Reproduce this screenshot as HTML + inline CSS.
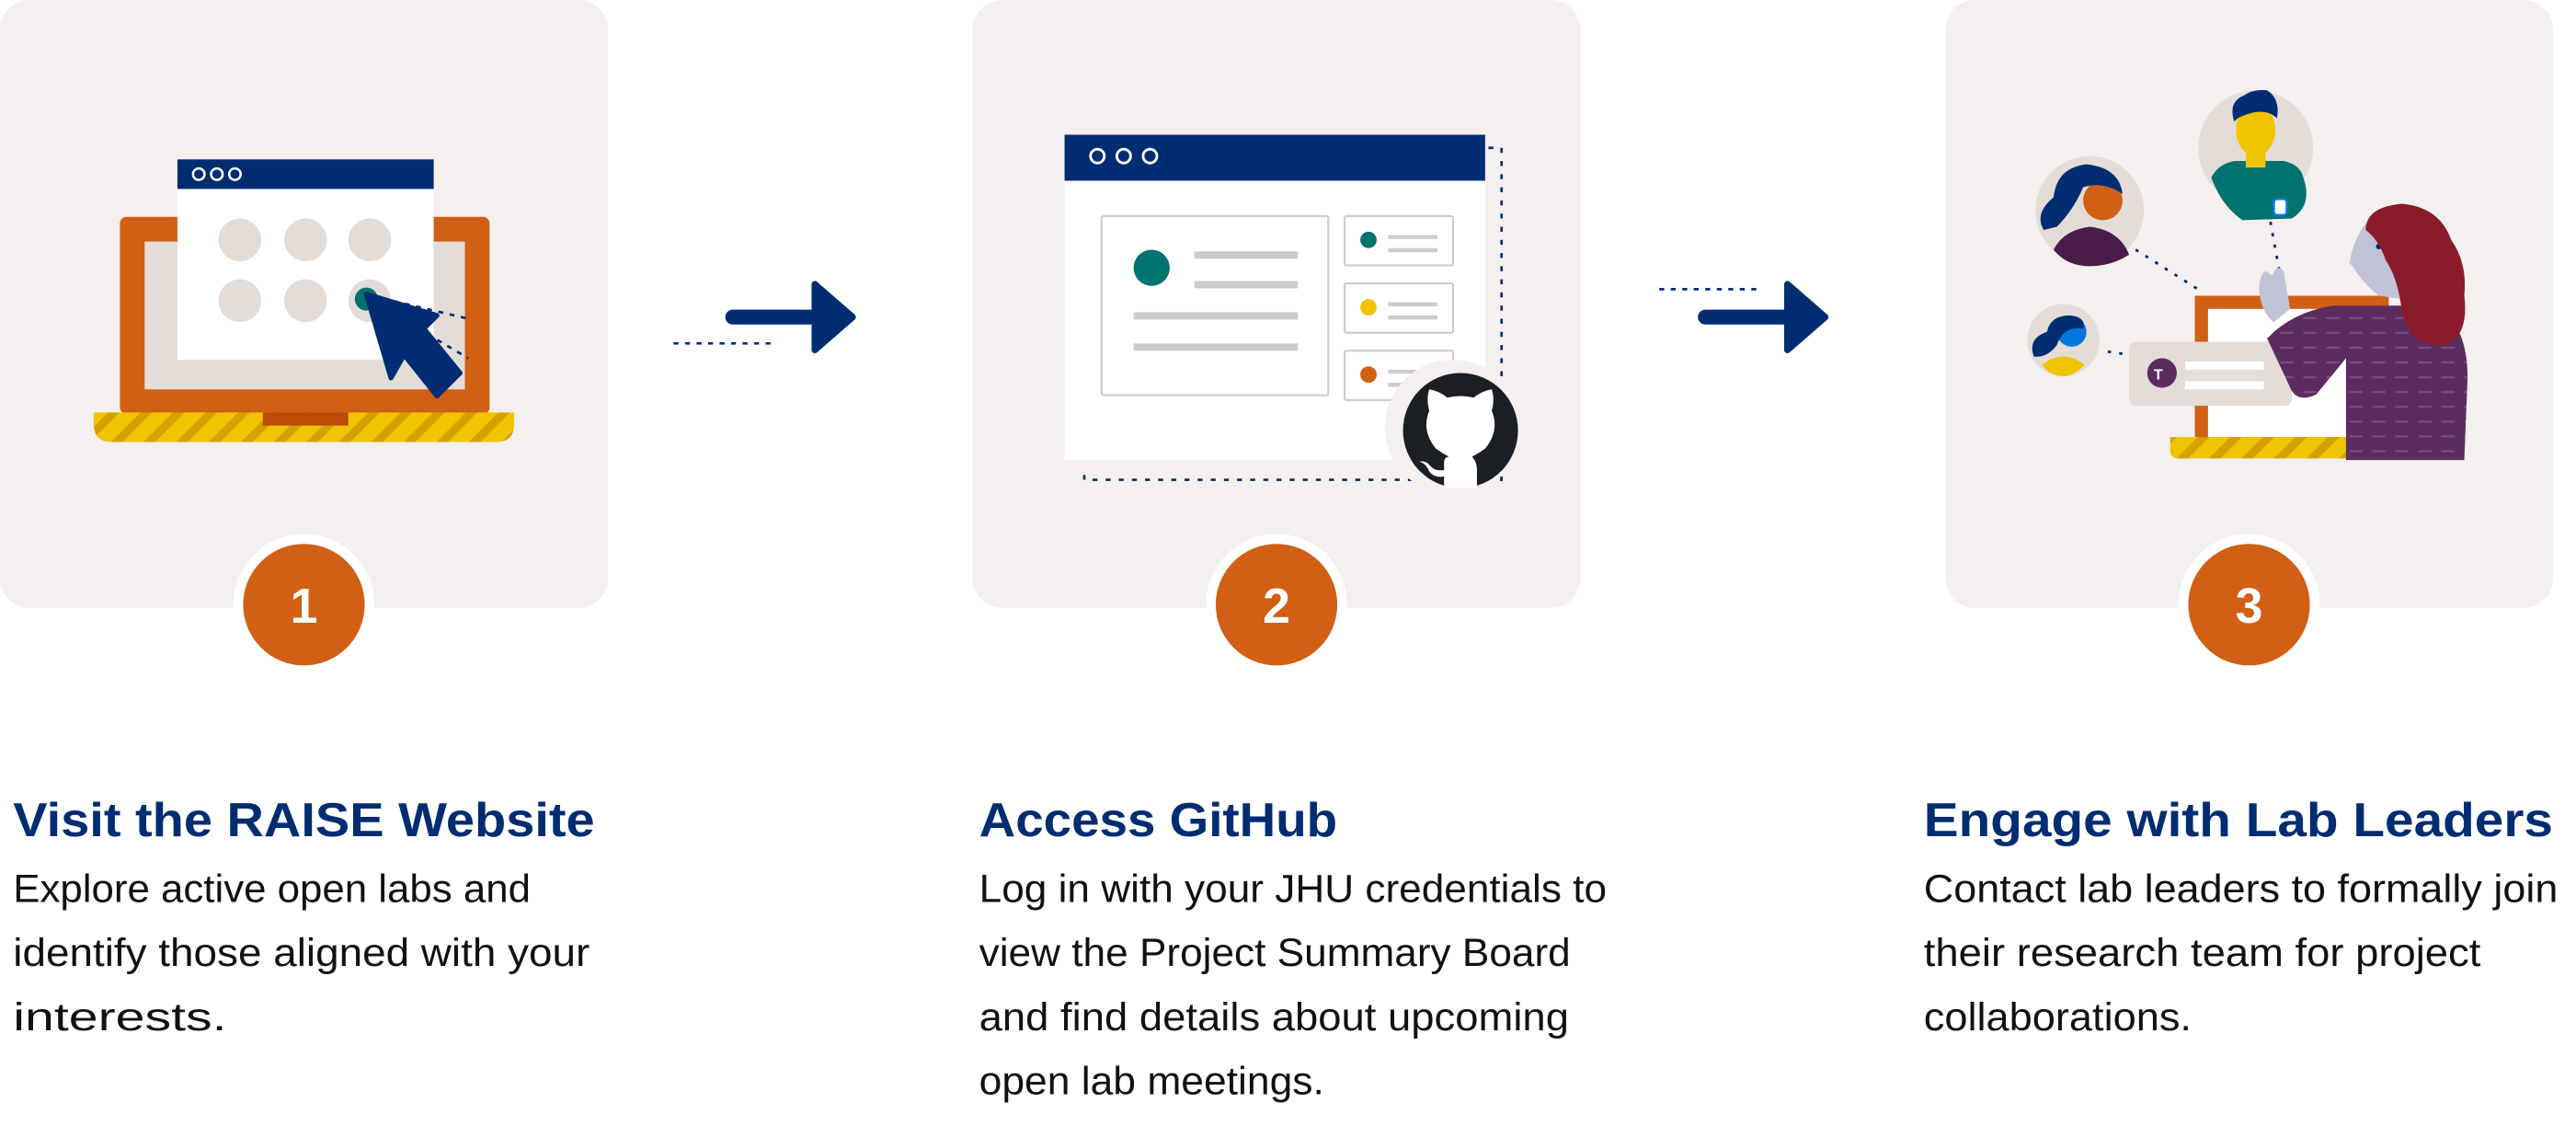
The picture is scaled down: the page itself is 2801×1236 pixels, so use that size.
<!DOCTYPE html>
<html><head><meta charset="utf-8"><style>
html,body{margin:0;padding:0;background:#fff;width:2801px;height:1236px;overflow:hidden}
svg{display:block}
.t{font-family:"Liberation Sans",sans-serif;font-weight:bold;fill:#002D72;font-size:29px}
.b{font-family:"Liberation Sans",sans-serif;fill:#111;font-size:24px}
.n{font-family:"Liberation Sans",sans-serif;font-weight:bold;fill:#fff;font-size:30px}
</style></head><body>
<svg width="2801" height="1236" viewBox="0 0 1568 692" preserveAspectRatio="none" xmlns="http://www.w3.org/2000/svg">
<defs>
<pattern id="hatch" width="14" height="14" patternUnits="userSpaceOnUse" patternTransform="rotate(45)">
<rect width="14" height="14" fill="#F1C400"/><rect width="5" height="14" fill="#D6A100"/>
</pattern>
<pattern id="knit" width="14" height="9" patternUnits="userSpaceOnUse">
<rect width="14" height="9" fill="#5B2D5F"/><rect x="2" y="4" width="8" height="1.2" fill="#7D4C82"/>
</pattern>
</defs>
<rect x="0" y="0" width="370" height="370" rx="18" fill="#F3F0EF"/>
<rect x="592" y="0" width="370" height="370" rx="18" fill="#F3F0EF"/>
<rect x="1184" y="0" width="370" height="370" rx="18" fill="#F3F0EF"/>

<rect x="73" y="132" width="225" height="120" rx="4" fill="#D15F14"/>
<rect x="88" y="147" width="195" height="90" fill="#E3DCD7"/>
<path d="M57 251 H313 V258 Q313 269 302 269 H68 Q57 269 57 258 Z" fill="url(#hatch)"/>
<rect x="160" y="251" width="52" height="8" fill="#BC4B06"/>
<rect x="108" y="97" width="156" height="122" fill="#fff"/>
<rect x="108" y="97" width="156" height="18" fill="#002D72"/>
<g fill="none" stroke="#fff" stroke-width="1.4"><circle cx="121" cy="106" r="3.5"/><circle cx="132" cy="106" r="3.5"/><circle cx="143" cy="106" r="3.5"/></g>
<g fill="#E3DCD7"><circle cx="146" cy="146" r="13"/><circle cx="186" cy="146" r="13"/><circle cx="225" cy="146" r="13"/><circle cx="146" cy="183" r="13"/><circle cx="186" cy="183" r="13"/><circle cx="225" cy="183" r="13"/></g>
<circle cx="223" cy="182" r="7" fill="#00736E"/>
<path d="M226 180 L285 194 M224 182 L285 218" stroke="#002D72" stroke-width="1.5" stroke-dasharray="3,4" fill="none"/>
<path d="M223 179 L266 192 L258 200 L280 227 L266 241 L246 216 L238 230 Z" fill="#002D72" stroke="#002D72" stroke-linejoin="round" stroke-width="3"/>

<line x1="446" y1="193" x2="500" y2="193" stroke="#002D72" stroke-width="9" stroke-linecap="round"/>
<path d="M496 173 L519 193 L496 213 Z" fill="#002D72" stroke="#002D72" stroke-width="4" stroke-linejoin="round"/>
<line x1="410" y1="209" x2="472" y2="209" stroke="#002D72" stroke-width="1.5" stroke-dasharray="3,4"/>

<path d="M906 90 H914 V292 H660 V285" fill="none" stroke="#002D72" stroke-width="1.5" stroke-dasharray="3,5"/>
<rect x="648" y="82" width="256" height="198" fill="#fff"/>
<rect x="648" y="82" width="256" height="28" fill="#002D72"/>
<g fill="none" stroke="#fff" stroke-width="1.6"><circle cx="668" cy="95" r="4.2"/><circle cx="684" cy="95" r="4.2"/><circle cx="700" cy="95" r="4.2"/></g>
<rect x="670.5" y="131.5" width="138" height="109" fill="#fff" stroke="#CCC" stroke-width="1.2" rx="1"/>
<circle cx="701" cy="163" r="11" fill="#00736E"/>
<g fill="#CCC"><rect x="727" y="153" width="63" height="4.5"/><rect x="727" y="171" width="63" height="4.5"/><rect x="690" y="190" width="100" height="4.5"/><rect x="690" y="209" width="100" height="4.5"/></g>
<g fill="#fff" stroke="#CCC" stroke-width="1.2"><rect x="818.5" y="131.5" width="66" height="30" rx="1"/><rect x="818.5" y="172.5" width="66" height="30" rx="1"/><rect x="818.5" y="213.5" width="66" height="30" rx="1"/></g>
<circle cx="833" cy="146" r="5" fill="#00736E"/><circle cx="833" cy="187" r="5" fill="#F1C400"/><circle cx="833" cy="228" r="5" fill="#D15F14"/>
<g fill="#CCC"><rect x="845" y="143" width="30" height="2.5"/><rect x="845" y="151" width="30" height="2.5"/><rect x="845" y="184" width="30" height="2.5"/><rect x="845" y="192" width="30" height="2.5"/><rect x="845" y="225" width="30" height="2.5"/><rect x="845" y="233" width="30" height="2.5"/></g>
<circle cx="884" cy="260" r="41" fill="#F3F0EF"/>
<circle cx="889" cy="262" r="35" fill="#1B1F23"/>
<path d="M874 273 Q865 262 870 250 Q868 243 870 237 Q876 238 881 242 Q889 240 897 242 Q902 238 908 237 Q910 243 908 250 Q913 262 904 273 Q900 276 896 278 Q899 281 899 286 V297 H879 V290 Q873 291 870 287 Q868 282 864 281 Q868 280 871 284 Q874 287 879 286 V282 Q879 278 882 278 Q878 276 874 273 Z" fill="#fff"/>

<line x1="1038" y1="193" x2="1092" y2="193" stroke="#002D72" stroke-width="9" stroke-linecap="round"/>
<path d="M1088 173 L1111 193 L1088 213 Z" fill="#002D72" stroke="#002D72" stroke-width="4" stroke-linejoin="round"/>
<line x1="1010" y1="176" x2="1072" y2="176" stroke="#002D72" stroke-width="1.5" stroke-dasharray="3,4"/>

<g stroke="#002D72" stroke-width="1.6" stroke-dasharray="2,5" fill="none">
<line x1="1300" y1="152" x2="1341" y2="178"/><line x1="1382" y1="135" x2="1388" y2="168"/><line x1="1283" y1="214" x2="1297" y2="216"/></g>
<rect x="1336" y="180" width="118" height="88" fill="#D15F14"/>
<rect x="1344" y="188" width="102" height="78" fill="#fff"/>
<path d="M1321 266 H1432 V279 H1326 Q1321 279 1321 274 Z" fill="url(#hatch)"/>
<rect x="1296" y="208" width="99" height="39" rx="4" fill="#E3DCD7"/>
<circle cx="1316" cy="227" r="9" fill="#5B2D5F"/>
<text x="1311" y="231" font-family="Liberation Sans,sans-serif" font-size="9" font-weight="bold" fill="#fff">T</text>
<rect x="1330" y="220" width="48" height="5" fill="#fff"/><rect x="1330" y="232" width="48" height="5" fill="#fff"/>
<circle cx="1272" cy="128" r="33" fill="#E3DCD7"/>
<path d="M1250 152 Q1256 140 1272 138 Q1290 140 1296 155 Q1285 162 1272 162 Q1258 162 1250 152 Z" fill="#4A1C49"/>
<circle cx="1280" cy="122" r="12" fill="#D15F14"/>
<path d="M1244 140 Q1238 130 1250 120 Q1252 102 1270 100 Q1290 102 1292 118 Q1280 110 1268 114 Q1262 128 1252 138 Z" fill="#002D72"/>
<circle cx="1256" cy="207" r="22" fill="#E3DCD7"/>
<path d="M1243 222 Q1256 212 1269 222 Q1262 229 1256 229 Q1248 229 1243 222 Z" fill="#F1C400"/>
<circle cx="1261" cy="202" r="9" fill="#0077D8"/>
<path d="M1238 217 Q1234 206 1246 202 Q1248 192 1260 192 Q1270 193 1268 200 Q1256 198 1252 210 Q1246 218 1238 217 Z" fill="#002D72"/>
<circle cx="1373" cy="90" r="35" fill="#E3DCD7"/>
<path d="M1402 108 Q1400 100 1390 98 L1360 98 Q1350 100 1346 108 Q1352 125 1365 134 L1395 133 Q1408 125 1402 108 Z" fill="#00736E"/>
<rect x="1367" y="92" width="12" height="10" fill="#F1C400"/>
<ellipse cx="1373" cy="79" rx="12" ry="16" fill="#F1C400"/>
<path d="M1360 74 Q1356 62 1366 58 Q1372 54 1380 55 Q1388 60 1386 72 Q1378 64 1362 72 Z" fill="#002D72"/>
<rect x="1384" y="121" width="8" height="10" rx="2" fill="#fff" stroke="#0077D8" stroke-width="1.5"/>
<path d="M1380 206 Q1395 190 1420 186 L1480 186 Q1502 195 1502 230 L1500 280 H1428 L1428 218 L1410 240 Q1400 245 1395 238 Z" fill="url(#knit)"/>
<path d="M1375 175 Q1377 160 1383 168 Q1386 160 1390 165 L1394 188 L1384 196 Q1376 190 1375 175 Z" fill="#C0C3D6"/>
<path d="M1430 160 Q1436 130 1455 128 Q1468 130 1470 160 L1462 182 L1448 180 Q1438 172 1432 162 Z" fill="#C0C3D6"/>
<circle cx="1448" cy="150" r="1.7" fill="#002D72"/>
<path d="M1440 140 Q1440 126 1462 124 Q1485 126 1492 146 Q1502 160 1500 180 Q1503 205 1488 210 Q1468 212 1462 190 Q1460 170 1452 158 Q1448 146 1440 140 Z" fill="#8A1B2A"/>

<circle cx="185" cy="368" r="43" fill="#fff"/><circle cx="185" cy="368" r="37" fill="#D15F14"/>
<text class="n" x="185" y="379" text-anchor="middle">1</text>
<circle cx="777" cy="368" r="43" fill="#fff"/><circle cx="777" cy="368" r="37" fill="#D15F14"/>
<text class="n" x="777" y="379" text-anchor="middle">2</text>
<circle cx="1369" cy="368" r="43" fill="#fff"/><circle cx="1369" cy="368" r="37" fill="#D15F14"/>
<text class="n" x="1369" y="379" text-anchor="middle">3</text>

<text class="t" x="8" y="509" textLength="354" lengthAdjust="spacingAndGlyphs">Visit the RAISE Website</text>
<text class="b" x="8" y="549" textLength="315" lengthAdjust="spacingAndGlyphs">Explore active open labs and</text>
<text class="b" x="8" y="588" textLength="351" lengthAdjust="spacingAndGlyphs">identify those aligned with your</text>
<text class="b" x="8" y="627" textLength="130" lengthAdjust="spacingAndGlyphs">interests.</text>

<text class="t" x="596" y="509" textLength="218" lengthAdjust="spacingAndGlyphs">Access GitHub</text>
<text class="b" x="596" y="549" textLength="382" lengthAdjust="spacingAndGlyphs">Log in with your JHU credentials to</text>
<text class="b" x="596" y="588" textLength="360" lengthAdjust="spacingAndGlyphs">view the Project Summary Board</text>
<text class="b" x="596" y="627" textLength="359" lengthAdjust="spacingAndGlyphs">and find details about upcoming</text>
<text class="b" x="596" y="666" textLength="210" lengthAdjust="spacingAndGlyphs">open lab meetings.</text>

<text class="t" x="1171" y="509" textLength="383" lengthAdjust="spacingAndGlyphs">Engage with Lab Leaders</text>
<text class="b" x="1171" y="549" textLength="386" lengthAdjust="spacingAndGlyphs">Contact lab leaders to formally join</text>
<text class="b" x="1171" y="588" textLength="339" lengthAdjust="spacingAndGlyphs">their research team for project</text>
<text class="b" x="1171" y="627" textLength="163" lengthAdjust="spacingAndGlyphs">collaborations.</text>
</svg>
</body></html>
